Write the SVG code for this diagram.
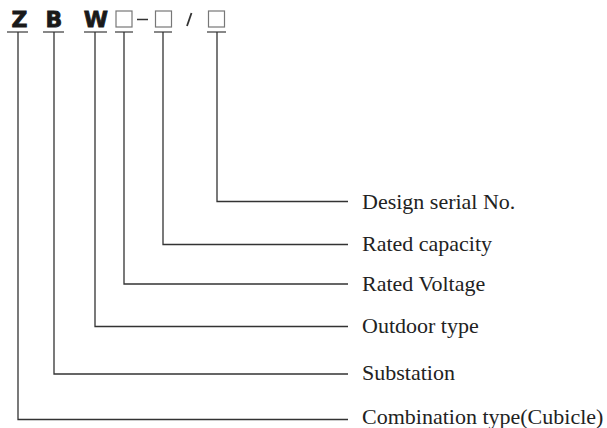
<svg xmlns="http://www.w3.org/2000/svg" width="607" height="428" viewBox="0 0 607 428">
<style>
.code{font-family:"DejaVu Sans","Liberation Sans",sans-serif;font-weight:900;font-size:22px;fill:#1a1a1a;text-anchor:middle;stroke:#1a1a1a;stroke-width:0.8}
.lbl{font-family:"Liberation Serif","Times New Roman",serif;font-size:22px;fill:#222}
.ul{stroke:#888;stroke-width:2;fill:none}
.box{stroke:#777;stroke-width:1.2;fill:none}
.con{stroke:#333;stroke-width:1.3;fill:none}
</style>
<rect width="607" height="428" fill="#fff"/>
<g id="code">
<text class="code" x="19.5" y="27">Z</text>
<text class="code" x="54" y="27">B</text>
<text class="code" x="96" y="27">W</text>
<rect class="box" x="116" y="11" width="16" height="16"/>
<line x1="137" y1="19.5" x2="148" y2="19.5" stroke="#333" stroke-width="1.5"/>
<rect class="box" x="155.5" y="11" width="16" height="16"/>
<line x1="191.5" y1="13" x2="187" y2="26" stroke="#333" stroke-width="1.8"/>
<rect class="box" x="208.5" y="11" width="16" height="16"/>
<line class="ul" x1="7" y1="32" x2="28" y2="32"/>
<line class="ul" x1="43" y1="32" x2="64" y2="32"/>
<line class="ul" x1="84" y1="32" x2="107" y2="32"/>
<line class="ul" x1="115" y1="32" x2="133" y2="32"/>
<line class="ul" x1="154" y1="32" x2="172" y2="32"/>
<line class="ul" x1="207" y1="32" x2="226" y2="32"/>
</g>
<g id="connectors">
<polyline class="con" points="217,32 217,201.5 348,201.5"/>
<polyline class="con" points="163,32 163,244.5 348,244.5"/>
<polyline class="con" points="124,32 124,284 348,284"/>
<polyline class="con" points="95,32 95,326.5 348,326.5"/>
<polyline class="con" points="54,32 54,374 348,374"/>
<polyline class="con" points="18,32 18,419.5 348,419.5"/>
</g>
<g id="design"><text class="lbl" x="362" y="209">Design serial No.</text></g>
<g id="capacity"><text class="lbl" x="362" y="251">Rated capacity</text></g>
<g id="voltage"><text class="lbl" x="362" y="290.5">Rated Voltage</text></g>
<g id="outdoor"><text class="lbl" x="362" y="332.5">Outdoor type</text></g>
<g id="substation"><text class="lbl" x="362" y="380">Substation</text></g>
<g id="combination"><text class="lbl" x="362" y="424">Combination type(Cubicle)</text></g>
</svg>
